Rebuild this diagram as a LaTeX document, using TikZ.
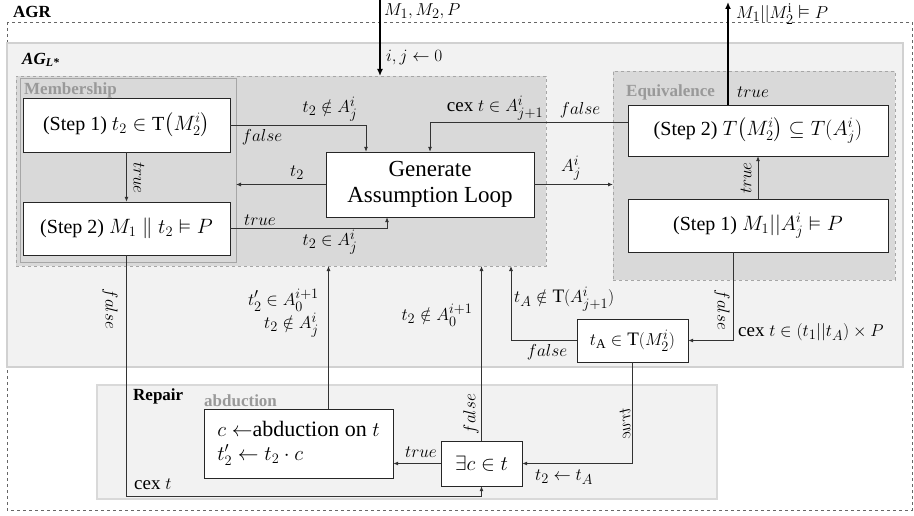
\documentclass[tikz,border=0pt]{standalone}
\usepackage{amsmath,amssymb}
\usepackage{fontspec}
\setmainfont{Liberation Serif}
\usetikzlibrary{arrows.meta,positioning}

\begin{document}
\begin{tikzpicture}[x=1pt,y=-1pt,
  zone/.style={inner sep=0pt,outer sep=0pt},
  box/.style={draw=black!85,fill=white,inner sep=2pt,font=\fontsize{20}{23}\selectfont},
  flow/.style={draw=black!80,line width=0.8pt,-{Latex[length=5pt,width=4pt]}},
  io/.style={line width=1.8pt,-{Latex[length=7pt,width=6pt]}},
  lab/.style={font=\fontsize{19}{22}\selectfont,inner sep=1pt},
  tag/.style={font=\bfseries\fontsize{17}{20}\selectfont,text=black!40,anchor=west,inner sep=0pt}]
  \useasboundingbox (0,0) rectangle (914,516);
  % regions
  \draw[black!60,dashed,line width=0.6pt] (7,22) rectangle (912,510);
  \node[zone,fill=black!5,draw=black!18,line width=1.2pt,minimum width=896pt,minimum height=324pt] (agl) at (455,205) {};
  \node[zone,fill=black!15,draw=black!35,dashed,minimum width=530pt,minimum height=190pt] (loop) at (281,171) {};
  \node[zone,draw=black!35,line width=1pt,minimum width=216pt,minimum height=183pt] (mem) at (128,170.5) {};
  \node[zone,fill=black!15,draw=black!35,dashed,minimum width=282pt,minimum height=209pt] (eqv) at (754,175.5) {};
  \node[zone,fill=black!5,draw=black!15,line width=1.2pt,minimum width=620pt,minimum height=114pt] (rep) at (407,442) {};
  \node[tag,text=black] at (13,12) {AGR};
  \node[tag,text=black] (agname) at (22,60) {\itshape AG\textsubscript{L*}};
  \node[tag] at (24,90) {Membership};
  \node[tag] at (626,92) {Equivalence};
  \node[tag,text=black] at (133,396) {Repair};
  \node[tag] at (204,401) {abduction};
  % boxes
  \node[box,minimum width=207pt,minimum height=54pt] (s1) at (126.5,125) {(Step 1) $t_2\in\mathrm{T}\big(M_2^i\big)$};
  \node[box,minimum width=207pt,minimum height=53pt] (s2) at (126.5,228.5) {(Step 2) $M_1\parallel t_2\vDash P$};
  \node[box,align=center,font=\fontsize{23}{26}\selectfont,minimum width=208pt,minimum height=65pt] (gen) at (430,184.5) {Generate\\Assumption Loop};
  \node[box,minimum width=260pt,minimum height=51pt] (e2) at (758,130.5) {(Step 2) $T\big(M_2^i\big)\subseteq T(A_j^i)$};
  \node[box,minimum width=260pt,minimum height=53pt] (e1) at (758,225.5) {(Step 1) $M_1||A_j^i\vDash P$};
  \node[box,font=\fontsize{19}{22}\selectfont,minimum width=111pt,minimum height=43pt] (ta) at (632.5,340.5) {$t_{\mathrm{A}}\in\mathrm{T}(M_2^i)$};
  \node[box,align=left,font=\fontsize{22}{24}\selectfont,minimum width=189pt,minimum height=69pt] (abd) at (298.5,443.5) {$c\leftarrow$abduction on $t$\\$t_2'\leftarrow t_2\cdot c$};
  \node[box,font=\fontsize{21}{24}\selectfont,minimum width=81pt,minimum height=45pt] (ex) at (481.5,463.5) {$\exists c\in t$};
  % in and out
  \coordinate (src) at (380,0);
  \coordinate (sink) at (728,2);
  \draw[io] (src) -- (src |- loop.north);
  \draw[io] (e2.north -| sink) -- (sink);
  \node[lab,anchor=west] at (383,11) {$M_1,M_2,P$};
  \node[lab,anchor=west] at (385,58) {$i,j\leftarrow 0$};
  \node[lab,anchor=west] at (735,14) {$M_1||M_2^{\mathrm{i}}\vDash P$};
  \node[lab,anchor=west] at (736,92) {$true$};
  % membership / generate
  \draw[flow] (s1.east) -| ([xshift=-64pt]gen.north);
  \node[lab] at (330,109) {$t_2\notin A_j^i$};
  \node[lab] at (262,137) {$false$};
  \draw[flow] (e2.west |- 0,122) -| (gen.north);
  \node[lab] at (495,108) {cex $t\in A_{j+1}^i$};
  \node[lab] at (580,110) {$false$};
  \draw[flow] (gen.west) -- (gen.west -| mem.east);
  \node[lab] at (297,173) {$t_2$};
  \draw[flow] (s2.east) -| ([xshift=-43pt]gen.south);
  \node[lab] at (260,220) {$true$};
  \node[lab] at (330,242) {$t_2\in A_j^i$};
  \draw[flow] (s1) -- (s2);
  \node[lab,rotate=-90] at (139,178) {$true$};
  % equivalence
  \draw[flow] (gen.east) -- (gen.east -| eqv.west);
  \node[lab] at (571,168) {$A_j^i$};
  \draw[flow] (e1) -- (e2);
  \node[lab,rotate=90] at (746,178) {$true$};
  \draw[flow] ([xshift=-25pt]e1.south) |- (ta.east);
  \node[lab,rotate=-90] at (722,310) {$false$};
  \node[lab,anchor=west] at (737,332) {cex $t\in(t_1||t_A)\times P$};
  \draw[flow] (ta.west) -| ([xshift=230pt]loop.south);
  \node[lab,anchor=west] at (513,299) {$t_A\notin\mathrm{T}(A_{j+1}^i)$};
  \node[lab] at (547,352) {$false$};
  % repair
  \draw[flow] (ta.south) |- (ex.east);
  \node[lab,rotate=-90,yscale=-1] at (625,424) {$true$};
  \node[lab] at (564,477) {$t_2\leftarrow t_A$};
  \coordinate (bend) at (s2.south |- 0,496);
  \draw[flow] (s2.south) -- (bend) -| (ex.south);
  \node[lab,rotate=-90] at (110,309) {$false$};
  \node[lab,anchor=west] at (133,484) {cex $t$};
  \draw[flow] (ex.west) -- (ex.west -| abd.east);
  \node[lab] at (421,452) {$true$};
  \draw[flow] (ex.north) -- (ex.north |- loop.south);
  \node[lab,rotate=90] at (471,414) {$false$};
  \node[lab] at (437,315) {$t_2\notin A_0^{i+1}$};
  \coordinate (up) at ([xshift=30pt]abd.north);
  \draw[flow] (up) -- (up |- loop.south);
  \node[lab,anchor=east] at (320,300) {$t_2'\in A_0^{i+1}$};
  \node[lab,anchor=east] at (320,325) {$t_2\notin A_j^i$};
\end{tikzpicture}
\end{document}
